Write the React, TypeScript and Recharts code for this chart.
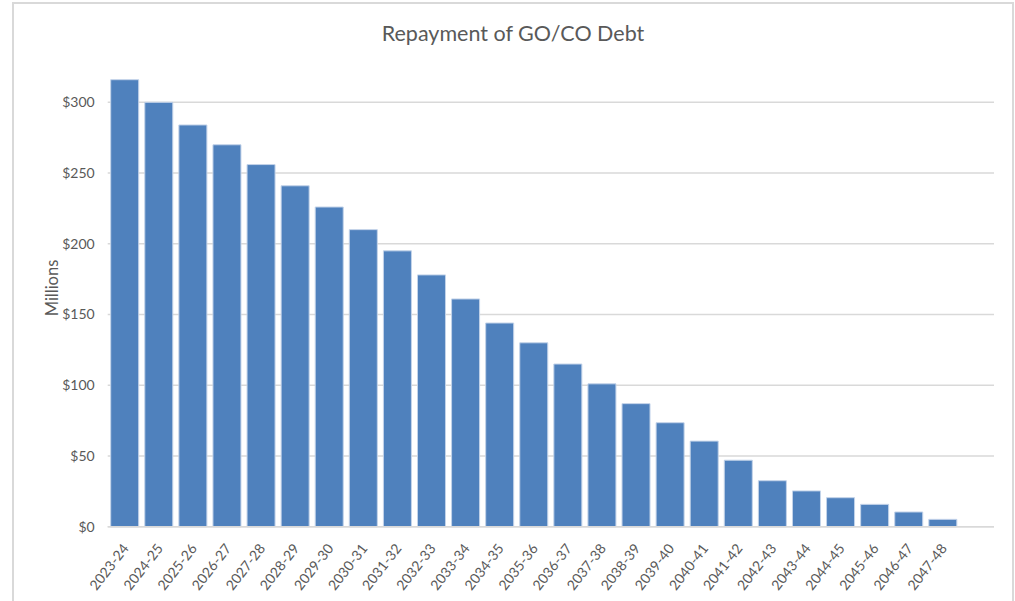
import React from "react";
import { BarChart, Bar, XAxis, YAxis, CartesianGrid } from "recharts";

const categories = [
  "2023-24", "2024-25", "2025-26", "2026-27", "2027-28", "2028-29", "2029-30",
  "2030-31", "2031-32", "2032-33", "2033-34", "2034-35", "2035-36", "2036-37",
  "2037-38", "2038-39", "2039-40", "2040-41", "2041-42", "2042-43", "2043-44",
  "2044-45", "2045-46", "2046-47", "2047-48", "",
];

const repayment = [
  316, 300, 284, 270, 256, 241, 226, 210, 195, 178, 161, 144, 130, 115, 101,
  87, 73.5, 60.5, 47, 32.5, 25.3, 20.5, 15.8, 10.4, 5.2, null,
];

const yTicks = [0, 50, 100, 150, 200, 250, 300];

const data = categories.map((c, i) => ({ year: c, value: repayment[i] }));

const FONT = "Lato, 'Liberation Sans', sans-serif";
const TEXT = "#595959";

const XTick = (props: any) => {
  const { x, y, payload } = props;
  if (!payload || !payload.value) return null;
  return (
    <g transform={`translate(${x + 1},${y + 11})`}>
      <text
        x={0}
        y={0}
        dy="0.35em"
        textAnchor="end"
        transform="rotate(-52)"
        fill={TEXT}
        fontSize={14}
        fontFamily={FONT}
      >
        {payload.value}
      </text>
    </g>
  );
};

export default function App() {
  return (
    <div
      style={{
        position: "absolute",
        left: 0,
        top: 0,
        width: 1015,
        height: 601,
        overflow: "hidden",
        background: "#fff",
      }}
    >
      <div
        style={{
          position: "absolute",
          left: 12,
          top: 2,
          width: 1002,
          height: 700,
          border: "2px solid #d9d9d9",
          boxSizing: "border-box",
        }}
      />
      <div style={{ position: "absolute", left: 0, top: 0 }}>
        <BarChart
          width={1015}
          height={601}
          data={data}
          margin={{ top: 31.6, right: 21, bottom: 14.3, left: 47.7 }}
          barCategoryGap={3}
        >
          <CartesianGrid
            vertical={false}
            stroke="#d9d9d9"
            strokeWidth={1.5}
            horizontalValues={yTicks}
          />
          <XAxis
            dataKey="year"
            interval={0}
            height={60}
            tickLine={false}
            axisLine={{ stroke: "#d9d9d9", strokeWidth: 1.5 }}
            tick={<XTick />}
          />
          <YAxis
            width={60}
            domain={[0, 350]}
            ticks={yTicks}
            axisLine={false}
            tickLine={false}
            tickSize={6}
            tickMargin={7}
            tickFormatter={(v: number) => `$${v}`}
            tick={{ fill: TEXT, fontSize: 14, fontFamily: FONT }}
          />
          <Bar
            dataKey="value"
            fill="#4f81bd"
            stroke="#c3d3e9"
            strokeWidth={1}
            isAnimationActive={false}
          />
        </BarChart>
      </div>
      <svg
        width={1015}
        height={601}
        style={{ position: "absolute", left: 0, top: 0, pointerEvents: "none" }}
      >
        <text
          x={513}
          y={41}
          textAnchor="middle"
          fill={TEXT}
          fontSize={21.5}
          fontFamily={FONT}
        >
          Repayment of GO/CO Debt
        </text>
        <text
          x={52}
          y={288}
          dy="0.35em"
          textAnchor="middle"
          transform="rotate(-90 52 288)"
          fill={TEXT}
          fontSize={16.5}
          fontFamily={FONT}
        >
          Millions
        </text>
      </svg>
    </div>
  );
}
